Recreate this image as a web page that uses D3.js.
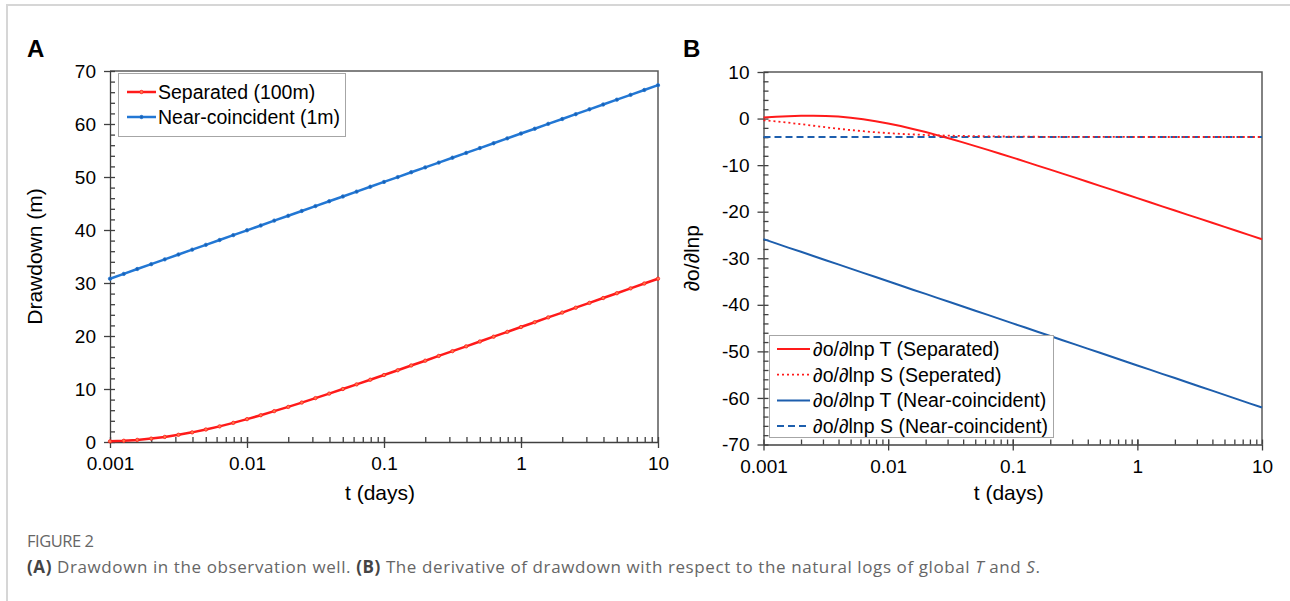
<!DOCTYPE html>
<html>
  <head>
    <meta charset="utf-8">
    <title>Figure 2</title>
    <script src="https://cdn.jsdelivr.net/npm/d3@7"></script>
    <style>
      body { margin: 0; background: #fff; }
      svg { display: block; font-family: "Liberation Sans", Arial, sans-serif; }
      .axis path, .axis line { stroke: #404040; stroke-width: 1.3; }
      .axis text { font-size: 19px; fill: #000; font-family: "Liberation Sans", Arial, sans-serif; }
      .frame { stroke: #5a5a5a; stroke-width: 1.5; fill: none; }
      .legend-box { fill: #fff; stroke: #a6a6a6; stroke-width: 1; }
      .legend text { font-size: 19.5px; }
      .title { font-size: 21px; }
      .caption { font-family: "Open Sans", sans-serif; fill: #666; }
    </style>
  </head>
  <body>
    <svg id="fig" width="1290" height="601"></svg>
  </body>
  <script>
    // time (days), log spaced as in the figure
    const tDays = [0.001, 0.00126, 0.00158, 0.002, 0.00251, 0.00316, 0.00398, 0.00501, 0.00631, 0.00794,
      0.01, 0.0126, 0.0158, 0.02, 0.0251, 0.0316, 0.0398, 0.0501, 0.0631, 0.0794,
      0.1, 0.126, 0.158, 0.2, 0.251, 0.316, 0.398, 0.501, 0.631, 0.794,
      1, 1.26, 1.58, 2, 2.51, 3.16, 3.98, 5.01, 6.31, 7.94, 10];

    // panel A: drawdown (m)
    const separated = [0.12, 0.23, 0.40, 0.64, 0.96, 1.36, 1.82, 2.36, 2.95, 3.61,
      4.31, 5.05, 5.82, 6.62, 7.44, 8.28, 9.13, 10.00, 10.87, 11.75,
      12.64, 13.54, 14.44, 15.34, 16.24, 17.14, 18.05, 18.96, 19.87, 20.78,
      21.69, 22.60, 23.51, 24.42, 25.34, 26.25, 27.16, 28.07, 28.99, 29.90, 30.81];
    const nearCoincident = [30.81, 31.72, 32.64, 33.55, 34.46, 35.38, 36.29, 37.20, 38.11, 39.03,
      39.94, 40.85, 41.77, 42.68, 43.59, 44.51, 45.42, 46.33, 47.24, 48.16,
      49.07, 49.98, 50.90, 51.81, 52.72, 53.64, 54.55, 55.46, 56.37, 57.29,
      58.20, 59.11, 60.03, 60.94, 61.85, 62.77, 63.68, 64.59, 65.50, 66.42, 67.33];

    // panel B: derivatives of drawdown
    const dSepT = [0.25, 0.38, 0.50, 0.59, 0.61, 0.55, 0.42, 0.18, -0.14, -0.56,
      -1.05, -1.61, -2.23, -2.90, -3.61, -4.35, -5.12, -5.92, -6.72, -7.55,
      -8.39, -9.24, -10.10, -10.96, -11.83, -12.69, -13.57, -14.45, -15.32, -16.20,
      -17.08, -17.96, -18.85, -19.73, -20.62, -21.50, -22.38, -23.27, -24.16, -25.04, -25.92];
    const dSepS = [-0.37, -0.60, -0.89, -1.21, -1.54, -1.87, -2.19, -2.47, -2.72, -2.94,
      -3.13, -3.29, -3.41, -3.52, -3.61, -3.68, -3.74, -3.78, -3.82, -3.85,
      -3.87, -3.89, -3.91, -3.92, -3.93, -3.94, -3.94, -3.95, -3.95, -3.95,
      -3.96, -3.96, -3.96, -3.96, -3.96, -3.96, -3.96, -3.96, -3.96, -3.96, -3.96];
    const dNearT = [-25.90, -26.80, -27.71, -28.61, -29.52, -30.42, -31.32, -32.23, -33.13, -34.04,
      -34.94, -35.84, -36.75, -37.65, -38.56, -39.46, -40.36, -41.27, -42.17, -43.08,
      -43.98, -44.88, -45.79, -46.69, -47.60, -48.50, -49.40, -50.31, -51.21, -52.12,
      -53.02, -53.92, -54.83, -55.73, -56.64, -57.54, -58.44, -59.35, -60.25, -61.16, -62.06];
    const dNearS = [-3.97, -3.97, -3.97, -3.97, -3.97, -3.97, -3.97, -3.97, -3.97, -3.97,
      -3.97, -3.97, -3.97, -3.97, -3.97, -3.97, -3.97, -3.97, -3.97, -3.97,
      -3.97, -3.97, -3.97, -3.97, -3.97, -3.97, -3.97, -3.97, -3.97, -3.97,
      -3.97, -3.97, -3.97, -3.97, -3.97, -3.97, -3.97, -3.97, -3.97, -3.97, -3.97];

    const xTicks = [0.001, 0.01, 0.1, 1, 10];
    const xTickLabels = ["0.001", "0.01", "0.1", "1", "10"];
    const yTicksA = [0, 10, 20, 30, 40, 50, 60, 70];
    const yTicksB = [10, 0, -10, -20, -30, -40, -50, -60, -70];

    const svg = d3.select("#fig");

    // outer page frame (light grey)
    svg.append("path")
      .attr("d", "M7,601 V5 H1290")
      .attr("fill", "none")
      .attr("stroke", "#d6d6d6")
      .attr("stroke-width", 2);

    const minorLog = [];
    [0.001, 0.01, 0.1, 1].forEach(d => { for (let m = 1; m <= 10; m++) minorLog.push(d * m); });

    function panel(opts) {
      const x = d3.scaleLog().domain([0.001, 10]).range([opts.x0, opts.x1]);
      const y = d3.scaleLinear().domain(opts.yDomain).range([opts.y0, opts.y1]);
      const g = svg.append("g");

      // top and right frame
      g.append("path").attr("class", "frame")
        .attr("d", `M${opts.x0},${opts.y1} H${opts.x1} V${opts.y0}`);

      const minorY = d3.range(opts.yDomain[0], opts.yDomain[1] + 0.1, 2);

      // y axis: labelled major ticks outward, minor ticks inward
      g.append("g").attr("class", "axis")
        .attr("transform", `translate(${opts.x0},0)`)
        .call(d3.axisLeft(y).tickValues(opts.yTicks).tickSize(6).tickSizeOuter(0).tickPadding(8)
          .tickFormat(d => String(d)));
      g.append("g").attr("class", "axis")
        .attr("transform", `translate(${opts.x0},0)`)
        .call(d3.axisRight(y).tickValues(minorY).tickSize(5).tickSizeOuter(0).tickFormat(""))
        .call(a => a.select(".domain").remove());

      // x axis
      g.append("g").attr("class", "axis")
        .attr("transform", `translate(0,${opts.y0})`)
        .call(d3.axisBottom(x).tickValues(xTicks).tickSize(6).tickSizeOuter(0).tickPadding(9)
          .tickFormat((d, i) => xTickLabels[i]));
      g.append("g").attr("class", "axis")
        .attr("transform", `translate(0,${opts.y0})`)
        .call(d3.axisTop(x).tickValues(minorLog).tickSize(5).tickSizeOuter(0).tickFormat(""))
        .call(a => a.select(".domain").remove());

      // titles
      g.append("text").attr("class", "title")
        .attr("x", (opts.x0 + opts.x1) / 2 - 4).attr("y", 500)
        .attr("text-anchor", "middle").text("t (days)");
      g.append("text").attr("class", "title")
        .attr("transform", `translate(${opts.yTitleX},${(opts.y0 + opts.y1) / 2}) rotate(-90)`)
        .attr("text-anchor", "middle").text(opts.yTitle);
      g.append("text")
        .attr("x", opts.labelX).attr("y", 57)
        .attr("font-size", 24).attr("font-weight", "bold")
        .text(opts.label);

      return { g, x, y };
    }

    // ---- panel A ----
    const A = panel({ x0: 110, x1: 658, y0: 442, y1: 71, yDomain: [0, 70], yTicks: yTicksA,
      yTitle: "Drawdown (m)", yTitleX: 42, label: "A", labelX: 27 });

    const seriesA = [
      { name: "Separated (100m)", values: separated, color: "#ff1a1a", marker: "#ff7a4d" },
      { name: "Near-coincident (1m)", values: nearCoincident, color: "#2277d4", marker: "#1a5fb0" }
    ];

    seriesA.forEach(s => {
      const pts = tDays.map((t, i) => [t, s.values[i]]);
      const line = d3.line().x(d => A.x(d[0])).y(d => A.y(d[1]));
      A.g.append("path").datum(pts).attr("d", line)
        .attr("fill", "none").attr("stroke", s.color).attr("stroke-width", 2.5);
      A.g.selectAll(null).data(pts).enter().append("circle")
        .attr("cx", d => A.x(d[0])).attr("cy", d => A.y(d[1])).attr("r", 1.7)
        .attr("fill", s.marker).attr("stroke", s.color).attr("stroke-width", 0.8);
    });

    const legA = A.g.append("g").attr("class", "legend");
    legA.append("rect").attr("class", "legend-box")
      .attr("x", 118.5).attr("y", 73.5).attr("width", 227).attr("height", 63);
    seriesA.forEach((s, i) => {
      const yy = 92 + i * 25;
      legA.append("line").attr("x1", 127).attr("x2", 156).attr("y1", yy).attr("y2", yy)
        .attr("stroke", s.color).attr("stroke-width", 2.5);
      legA.append("circle").attr("cx", 141.5).attr("cy", yy).attr("r", 1.7)
        .attr("fill", s.marker).attr("stroke", s.color).attr("stroke-width", 0.8);
      legA.append("text").attr("x", 158).attr("y", yy + 7).text(s.name);
    });

    // ---- panel B ----
    const B = panel({ x0: 763.5, x1: 1262, y0: 444.5, y1: 72, yDomain: [-70, 10], yTicks: yTicksB,
      yTitle: "\u2202o/\u2202lnp", yTitleX: 699, label: "B", labelX: 683 });

    const seriesB = [
      { name: "\u2202o/\u2202lnp T (Separated)", values: dSepT, color: "#ff1a1a", dash: null, w: 2 },
      { name: "\u2202o/\u2202lnp S (Seperated)", values: dSepS, color: "#ff1a1a", dash: "2,3", w: 1.8 },
      { name: "\u2202o/\u2202lnp T (Near-coincident)", values: dNearT, color: "#1d5ead", dash: null, w: 2 },
      { name: "\u2202o/\u2202lnp S (Near-coincident)", values: dNearS, color: "#1d5ead", dash: "7,4", w: 2 }
    ];

    // draw dashed ones below solid ones like the reference
    [3, 1, 0, 2].forEach(k => {
      const s = seriesB[k];
      const pts = tDays.map((t, i) => [t, s.values[i]]);
      const line = d3.line().x(d => B.x(d[0])).y(d => B.y(d[1]));
      B.g.append("path").datum(pts).attr("d", line)
        .attr("fill", "none").attr("stroke", s.color).attr("stroke-width", s.w)
        .attr("stroke-dasharray", s.dash);
    });

    const legB = B.g.append("g").attr("class", "legend");
    legB.append("rect").attr("class", "legend-box")
      .attr("x", 769.5).attr("y", 335.5).attr("width", 284).attr("height", 102);
    seriesB.forEach((s, i) => {
      const yy = 349 + i * 25.7;
      legB.append("line").attr("x1", 777).attr("x2", 810).attr("y1", yy).attr("y2", yy)
        .attr("stroke", s.color).attr("stroke-width", s.w).attr("stroke-dasharray", s.dash);
      legB.append("text").attr("x", 813).attr("y", yy + 7).text(s.name);
    });

    // ---- caption ----
    svg.append("text").attr("class", "caption")
      .attr("x", 27).attr("y", 547).attr("font-size", 16.5).attr("textLength", 67)
      .text("FIGURE 2");
    const cap = svg.append("text").attr("class", "caption")
      .attr("x", 27).attr("y", 573).attr("font-size", 17)
      .attr("textLength", 1013).attr("lengthAdjust", "spacing");
    cap.append("tspan").attr("font-weight", "bold").attr("fill", "#444").text("(A)");
    cap.append("tspan").text(" Drawdown in the observation well. ");
    cap.append("tspan").attr("font-weight", "bold").attr("fill", "#444").text("(B)");
    cap.append("tspan").text(" The derivative of drawdown with respect to the natural logs of global ");
    cap.append("tspan").attr("font-style", "italic").text("T");
    cap.append("tspan").text(" and ");
    cap.append("tspan").attr("font-style", "italic").text("S");
    cap.append("tspan").text(".");
  </script>
</html>
